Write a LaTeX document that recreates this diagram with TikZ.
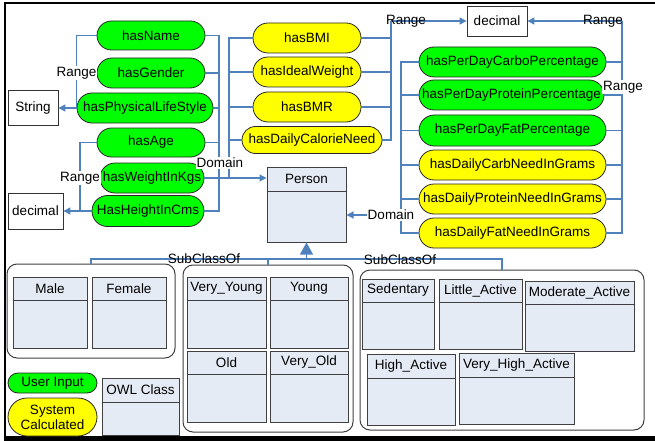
\documentclass[tikz,border=0pt]{standalone}
\usepackage{fontspec}
\setmainfont{Liberation Sans}
\usetikzlibrary{arrows.meta,shapes.misc}
\definecolor{lnk}{RGB}{79,129,189}
\definecolor{ufill}{RGB}{0,255,0}
\definecolor{sfill}{RGB}{255,255,0}
\definecolor{cfill}{RGB}{229,235,245}
\definecolor{cdraw}{RGB}{64,64,64}
\newcommand\myfs{\fontsize{13.5}{15}\selectfont}
\newcommand\owlbox[6]{%
  \node[clsbox, minimum width=#3pt, minimum height=#4pt] (#1) at #2 {};
  \draw[cdraw, line width=1pt] ([yshift=-#5pt]#1.north west) -- ([yshift=-#5pt]#1.north east);
  \node[txt] (#1-lbl) at ([yshift=-#5pt/2]#1.north) {#6};
}
\tikzset{
  txt/.style={font=\myfs, inner sep=0pt},
  pill/.style={rounded rectangle, draw=black!85, line width=0.8pt, font=\myfs, inner sep=0pt, align=center},
  uin/.style={pill, fill=ufill},
  sys/.style={pill, fill=sfill},
  clsbox/.style={draw=cdraw, fill=cfill, line width=1pt, inner sep=0pt},
  dtype/.style={draw=black!80, fill=white, line width=0.8pt, font=\myfs, inner sep=0pt},
  link/.style={draw=lnk, line width=1.2pt},
  arr/.style={link, -{Triangle[width=7pt,length=7pt]}},
  inh/.style={link, -{Triangle[width=13pt,length=12pt]}},
  lbl/.style={font=\myfs, inner sep=1pt},
  wlbl/.style={lbl, fill=white},
  grp/.style={draw=black!75, line width=1pt, rounded corners=10pt, inner sep=0pt},
}
\begin{document}
\begin{tikzpicture}[x=1pt, y=-1pt]
\useasboundingbox (0,0) rectangle (655,441);
% frame
\fill[black] (4,2.3) rectangle (655,4.3);
\fill[black] (3.7,2.3) rectangle (5.7,441);
\fill[black] (3.7,435.5) rectangle (655,441);

% datatypes
\node[dtype, minimum width=50pt, minimum height=35pt] (String) at (33,108) {String};
\node[dtype, minimum width=55pt, minimum height=36pt] (decL) at (35.5,211) {decimal};
\node[dtype, minimum width=60pt, minimum height=30pt] (decT) at (497,21) {decimal};

% left properties
\node[uin, minimum width=108pt, minimum height=29pt] (pName) at (151,35.5) {hasName};
\node[uin, minimum width=108pt, minimum height=30pt] (pGender) at (151,73) {hasGender};
\node[uin, minimum width=136pt, minimum height=30pt] (pPLS) at (145,108) {hasPhysicalLifeStyle};
\node[uin, minimum width=108pt, minimum height=29pt] (pAge) at (151,142.5) {hasAge};
\node[uin, minimum width=104pt, minimum height=30pt] (pWeight) at (152,178) {hasWeightInKgs};
\node[uin, minimum width=112pt, minimum height=31pt] (pHeight) at (148,211) {HasHeightInCms};

% middle properties
\node[sys, minimum width=108pt, minimum height=30pt] (pBMI) at (307,38) {hasBMI};
\node[sys, minimum width=108pt, minimum height=30pt] (pIW) at (307,72) {hasIdealWeight};
\node[sys, minimum width=108pt, minimum height=30pt] (pBMR) at (307,107) {hasBMR};
\node[sys, minimum width=140pt, minimum height=27pt] (pDCN) at (312,140) {hasDailyCalorieNeed};

% right properties
\node[uin, minimum width=187pt, minimum height=30pt] (pCarbP) at (512.5,62) {hasPerDayCarboPercentage};
\node[uin, minimum width=185pt, minimum height=30pt] (pProtP) at (511.5,95) {hasPerDayProteinPercentage};
\node[uin, minimum width=187pt, minimum height=31pt] (pFatP) at (512.5,130.5) {hasPerDayFatPercentage};
\node[sys, minimum width=187pt, minimum height=30pt] (pCarbG) at (512.5,165) {hasDailyCarbNeedInGrams};
\node[sys, minimum width=187pt, minimum height=30pt] (pProtG) at (512.5,199) {hasDailyProteinNeedInGrams};
\node[sys, minimum width=187pt, minimum height=30pt] (pFatG) at (512.5,233) {hasDailyFatNeedInGrams};

% Person
\owlbox{Person}{(306.5,204.5)}{79}{75}{25}{Person}

% groups
\node[grp, minimum width=168pt, minimum height=94pt] (gLeft) at (91,311) {};
\node[grp, minimum width=170pt, minimum height=167pt] (gMid) at (268,348.5) {};
\node[grp, minimum width=284pt, minimum height=160pt] (gRight) at (502,350) {};

% classes
\owlbox{Male}{(50,312.5)}{74}{71}{24}{Male}
\owlbox{Female}{(129,312.5)}{74}{71}{24}{Female}
\owlbox{VeryYoung}{(226.5,312.5)}{79}{71}{24}{Very\_Young}
\owlbox{Young}{(309,312.5)}{78}{71}{24}{Young}
\owlbox{Old}{(226.5,386.5)}{79}{71}{24}{Old}
\owlbox{VeryOld}{(309,386.5)}{78}{71}{24}{Very\_Old}
\owlbox{Sedentary}{(398,314)}{72}{70}{24}{Sedentary}
\owlbox{Little}{(480.5,314)}{83}{70}{24}{Little\_Active}
\owlbox{Moderate}{(579.5,316)}{109}{70}{24}{Moderate\_Active}
\owlbox{High}{(411,389.5)}{88}{71}{25}{High\_Active}
\owlbox{VeryHigh}{(516.5,388.5)}{115}{71}{25}{Very\_High\_Active}

% legend
\node[uin, minimum width=89pt, minimum height=20pt] (legU) at (52.5,383) {User Input};
\node[sys, minimum width=89pt, minimum height=38pt] (legS) at (52.5,417) {System\\Calculated};
\owlbox{OWLClass}{(140.5,406.5)}{77}{57}{25}{OWL Class}

% ---- connectors ----
% String range
\draw[link] (pName.west) -| (pPLS.west);
\draw[link] (pGender.west) -- (pGender.west -| pPLS.west);
\draw[arr] (pPLS.west) -- (String.east);
\node[wlbl] (lR1) at (pGender.west -| pPLS.west) {Range};

% decimal (left) range
\coordinate (dl) at (80,211);
\draw[link] (pAge.west) -| (dl);
\draw[link] (pWeight.west) -- (pWeight.west -| dl);
\draw[arr] (pHeight.west) -- (decL.east);
\node[wlbl] (lR2) at (pWeight.west -| dl) {Range};

% domain (left)
\coordinate (dA) at (219,178);
\coordinate (dB) at (229,178);
\draw[link] (pName.east) -| (dA);
\draw[link] (pGender.east) -- (pGender.east -| dA);
\draw[link] (pPLS.east) -- (pPLS.east -| dA);
\draw[link] (pAge.east) -- (pAge.east -| dA);
\draw[link] (pHeight.east) -| (dA);
\draw[link] (pBMI.west) -| (dB);
\draw[link] (pIW.west) -- (pIW.west -| dB);
\draw[link] (pBMR.west) -- (pBMR.west -| dB);
\draw[link] (pDCN.west) -- (pDCN.west -| dB);
\draw[arr] (pWeight.east) -- (pWeight.east -| Person.west);
\node[wlbl] (lD1) at (220,163) {Domain};

% yellow range -> decimal (top)
\coordinate (rY) at (391,21);
\draw[link] (pDCN.east) -| (rY);
\draw[link] (pBMI.east) -- (pBMI.east -| rY);
\draw[link] (pIW.east) -- (pIW.east -| rY);
\draw[link] (pBMR.east) -- (pBMR.east -| rY);
\draw[arr] (rY) -- (decT.west);
\node[lbl] (lR3) at (406,21.5) {Range};

% right domain
\coordinate (dC) at (401,215);
\draw[link] (pCarbP.west) -| (pFatG.west -| dC) -- (pFatG.west);
\draw[link] (pProtP.west) -- (pProtP.west -| dC);
\draw[link] (pFatP.west) -- (pFatP.west -| dC);
\draw[link] (pCarbG.west) -- (pCarbG.west -| dC);
\draw[link] (pProtG.west) -- (pProtG.west -| dC);
\draw[arr] (dC) -- (dC -| Person.east);
\node[wlbl] (lD2) at (391,215) {Domain};

% right range
\coordinate (rR) at (622,21);
\draw[link] (pFatG.east) -| (rR);
\draw[link] (pCarbP.east) -- (pCarbP.east -| rR);
\draw[link] (pProtP.east) -- (pProtP.east -| rR);
\draw[link] (pFatP.east) -- (pFatP.east -| rR);
\draw[link] (pCarbG.east) -- (pCarbG.east -| rR);
\draw[link] (pProtG.east) -- (pProtG.east -| rR);
\draw[arr] (rR) -- (decT.east);
\node[lbl] (lR4) at (603,21.5) {Range};
\node[wlbl] (lR5) at (623,87) {Range};

% subclass
\coordinate (sc) at (306.5,259);
\draw[link] (gLeft.north) -- (gLeft.north |- sc) -- (gRight.north |- sc) -- (gRight.north);
\draw[link] (gMid.north) -- (gMid.north |- sc);
\draw[inh] (sc) -- (Person.south);
\node[lbl] (lS1) at (204,258.5) {SubClassOf};
\node[lbl] (lS2) at (400,259.5) {SubClassOf};
\end{tikzpicture}
\end{document}
